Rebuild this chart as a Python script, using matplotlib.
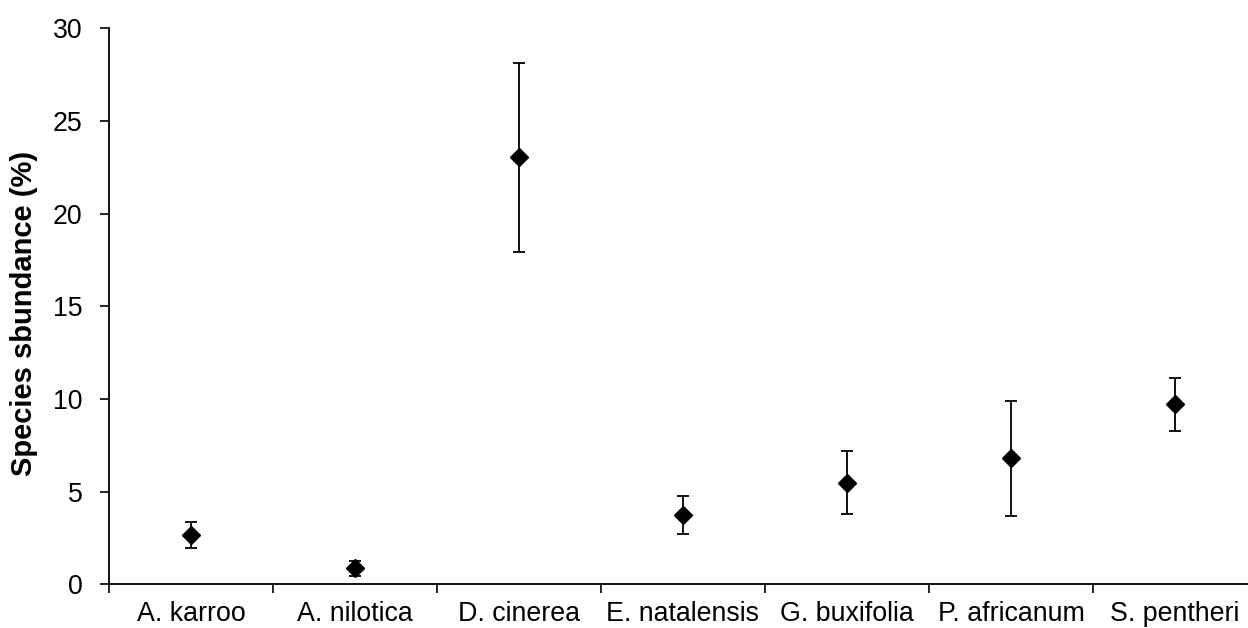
import matplotlib
matplotlib.use("Agg")
import matplotlib.pyplot as plt
import numpy as np

species = ["A. karroo", "A. nilotica", "D. cinerea", "E. natalensis",
           "G. buxifolia", "P. africanum", "S. pentheri"]
abundance = [2.66, 0.86, 23.03, 3.74, 5.48, 6.80, 9.71]
error = [0.72, 0.42, 5.08, 1.03, 1.70, 3.11, 1.43]

plt.rcParams['font.family'] = ['Liberation Sans', 'DejaVu Sans']

fig = plt.figure(figsize=(12.48, 6.28), dpi=100)
ax = fig.add_axes([109/1248, (628-584.3)/628, 1148/1248, 556/628])

x = np.arange(len(species))
ax.errorbar(x, abundance, yerr=error, fmt='D', color='black', ms=9,
            ecolor='black', elinewidth=1.3, capsize=4.5, capthick=1.3)

ax.set_xlim(-0.5, len(species) - 0.5)
ax.set_ylim(0, 30)
ax.set_yticks([0, 5, 10, 15, 20, 25, 30])
ax.set_xticks(np.arange(len(species) + 1) - 0.5)
ax.set_xticklabels([])
ax.set_xticks(x, minor=True)
ax.set_xticklabels(species, minor=True, fontsize=19.3)
ax.tick_params(axis='x', which='minor', length=0, pad=12)
ax.tick_params(axis='x', which='major', length=6.2, width=1.2, direction='out')
ax.tick_params(axis='y', length=6.2, width=1.2, pad=13, labelsize=19.3)

ax.spines['top'].set_visible(False)
ax.spines['right'].set_visible(False)
ax.spines['left'].set_linewidth(1.3)
ax.spines['bottom'].set_linewidth(1.3)

ax.set_ylabel("Species sbundance (%)", fontsize=21, fontweight='bold')
ax.yaxis.set_label_coords(-0.062, 0.488)

fig.savefig("out.png", dpi=100)
